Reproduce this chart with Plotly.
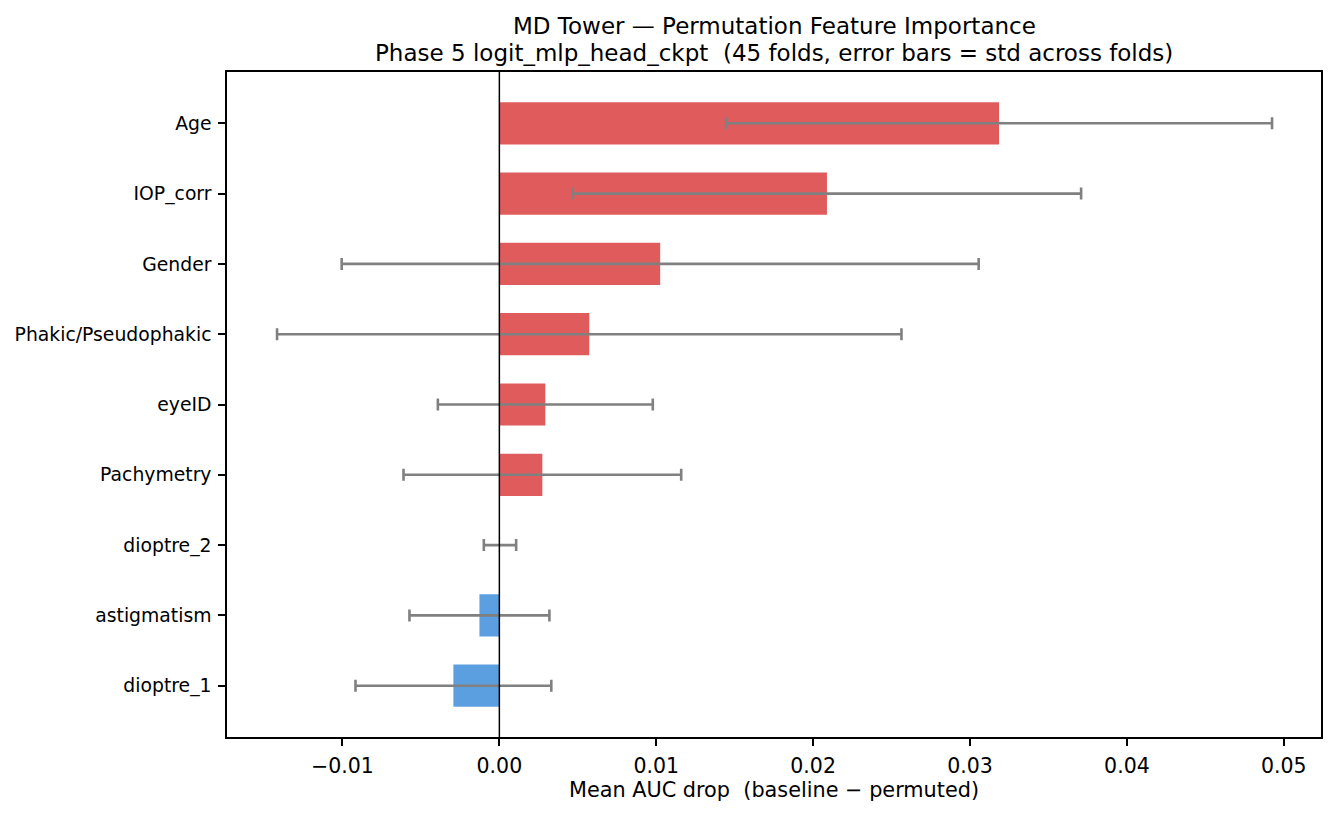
import plotly.graph_objects as go

# features listed bottom -> top, as on the chart
features = ["dioptre_1", "astigmatism", "dioptre_2", "Pachymetry", "eyeID",
            "Phakic/Pseudophakic", "Gender", "IOP_corr", "Age"]
mean_drop = [-0.00293, -0.00127, 0.00004, 0.00274, 0.00293,
             0.00573, 0.01025, 0.02088, 0.03185]
std_drop = [0.00624, 0.00446, 0.00103, 0.00885, 0.00685,
            0.01990, 0.02030, 0.01620, 0.01740]

title_lines = ["MD Tower \u2014 Permutation Feature Importance",
               "Phase 5 logit_mlp_head_ckpt  (45 folds, error bars = std across folds)"]

RED = "#e05c5c"
BLUE = "#5c9fe0"
colors = [RED if v >= 0 else BLUE for v in mean_drop]

fig = go.Figure()

fig.add_trace(go.Bar(
    x=mean_drop,
    y=features,
    orientation="h",
    width=0.6,
    marker=dict(color=colors, line=dict(width=0)),
    error_x=dict(type="data", array=std_drop, visible=True,
                 color="#808080", thickness=2.6, width=6),
    showlegend=False,
))

# zero reference line
fig.add_shape(type="line", xref="x", yref="paper", x0=0, x1=0, y0=0, y1=1,
              line=dict(color="black", width=1.5), layer="above")

# two-line title placed over the plot area
fig.add_annotation(text=title_lines[0], xref="paper", yref="paper",
                   x=0.5, y=1.069, xanchor="center", yanchor="middle",
                   showarrow=False, font=dict(size=23))
fig.add_annotation(text=title_lines[1], xref="paper", yref="paper",
                   x=0.5, y=1.0285, xanchor="center", yanchor="middle",
                   showarrow=False, font=dict(size=23))

# page body adds ~8px offset, so the figure is sized to fit the window
fig.update_layout(
    width=1326, height=807,
    margin=dict(l=219, r=13, t=64, b=78),
    paper_bgcolor="white",
    plot_bgcolor="white",
    font=dict(family="DejaVu Sans", color="black"),
    bargap=0.4,
)

fig.update_xaxes(
    range=[-0.01736, 0.05237],
    tickvals=[-0.01, 0.0, 0.01, 0.02, 0.03, 0.04, 0.05],
    ticktext=["\u22120.01", "0.00", "0.01", "0.02", "0.03", "0.04", "0.05"],
    tickfont=dict(size=20.5),
    ticklabelstandoff=3,
    automargin=False,
    ticks="outside", ticklen=7, tickwidth=1.5, tickcolor="black",
    showline=True, linecolor="black", linewidth=1.5, mirror=True,
    showgrid=False, zeroline=False,
    title=dict(text="Mean AUC drop  (baseline \u2212 permuted)",
               font=dict(size=20.8), standoff=4),
)
fig.update_yaxes(
    range=[-0.73, 8.73],
    tickfont=dict(size=18.8),
    ticklabelstandoff=3,
    automargin=False,
    ticks="outside", ticklen=7, tickwidth=1.5, tickcolor="black",
    showline=True, linecolor="black", linewidth=1.5, mirror=True,
    showgrid=False, zeroline=False,
)

fig.write_html("out.html")
